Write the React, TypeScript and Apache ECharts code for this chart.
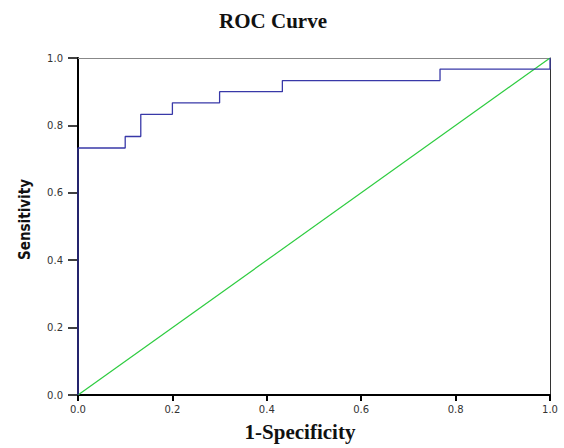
import React, { useEffect, useRef } from "react";
import * as echarts from "echarts";

const fpr = [0, 0, 0.1, 0.133, 0.2, 0.3, 0.433, 0.767, 1];
const tpr = [0, 0.733, 0.767, 0.833, 0.867, 0.9, 0.933, 0.967, 1];
const refLine = [0, 1];

export default function App() {
  const ref = useRef<HTMLDivElement>(null);
  useEffect(() => {
    const chart = echarts.init(ref.current!, undefined, { renderer: "svg" });
    const labelStyle = {
      fontFamily: "DejaVu Sans",
      fontSize: 10,
      color: "#333",
      formatter: (v: number) => v.toFixed(1),
    };
    chart.setOption({
      animation: false,
      backgroundColor: "#fff",
      title: {
        text: "ROC Curve",
        left: 268,
        textAlign: "center",
        top: 5,
        textStyle: { fontFamily: "Liberation Serif", fontWeight: "bold", fontSize: 21, color: "#111" },
      },
      grid: { left: 78, right: 14, top: 58, bottom: 53 },
      xAxis: [
        {
          type: "value",
          min: 0,
          max: 1,
          interval: 0.2,
          name: "1-Specificity",
          nameLocation: "middle",
          nameGap: 26,
          nameTextStyle: {
            fontFamily: "Liberation Serif",
            fontWeight: "bold",
            fontSize: 21,
            color: "#111",
            padding: [0, 28, 0, 0],
          },
          axisLine: { onZero: false, lineStyle: { color: "#000", width: 2 } },
          axisTick: { show: true, length: 6, lineStyle: { color: "#000", width: 2 } },
          axisLabel: { ...labelStyle, margin: 9 },
          splitLine: { show: false },
        },
        {
          type: "value",
          position: "top",
          min: 0,
          max: 1,
          axisLine: { show: true, onZero: false, lineStyle: { color: "#888", width: 1 } },
          axisTick: { show: false },
          axisLabel: { show: false },
          splitLine: { show: false },
        },
      ],
      yAxis: [
        {
          type: "value",
          min: 0,
          max: 1,
          interval: 0.2,
          name: "Sensitivity",
          nameLocation: "middle",
          nameGap: 46,
          nameTextStyle: {
            fontFamily: "DejaVu Sans Condensed",
            fontWeight: "bold",
            fontSize: 15,
            color: "#111",
            padding: [0, 0, 0, 14],
          },
          axisLine: { onZero: false, lineStyle: { color: "#000", width: 2 } },
          axisTick: { show: true, length: 10, lineStyle: { color: "#000", width: 1.5 } },
          axisLabel: { ...labelStyle, margin: 15 },
          splitLine: { show: false },
        },
        {
          type: "value",
          position: "right",
          min: 0,
          max: 1,
          axisLine: { show: true, onZero: false, lineStyle: { color: "#333", width: 1 } },
          axisTick: { show: false },
          axisLabel: { show: false },
          splitLine: { show: false },
        },
      ],
      series: [
        {
          type: "line",
          data: refLine.map((v) => [v, v]),
          symbol: "none",
          lineStyle: { color: "#2ecc40", width: 1.2 },
          z: 3,
        },
        {
          type: "line",
          step: "end",
          data: fpr.map((x, i) => [x, tpr[i]]),
          symbol: "none",
          lineStyle: { color: "#3838a8", width: 1.3 },
          z: 4,
        },
      ],
    });
    return () => chart.dispose();
  }, []);
  return (
    <div
      ref={ref}
      style={{ position: "fixed", left: 0, top: 0, width: 564, height: 448 }}
    />
  );
}
